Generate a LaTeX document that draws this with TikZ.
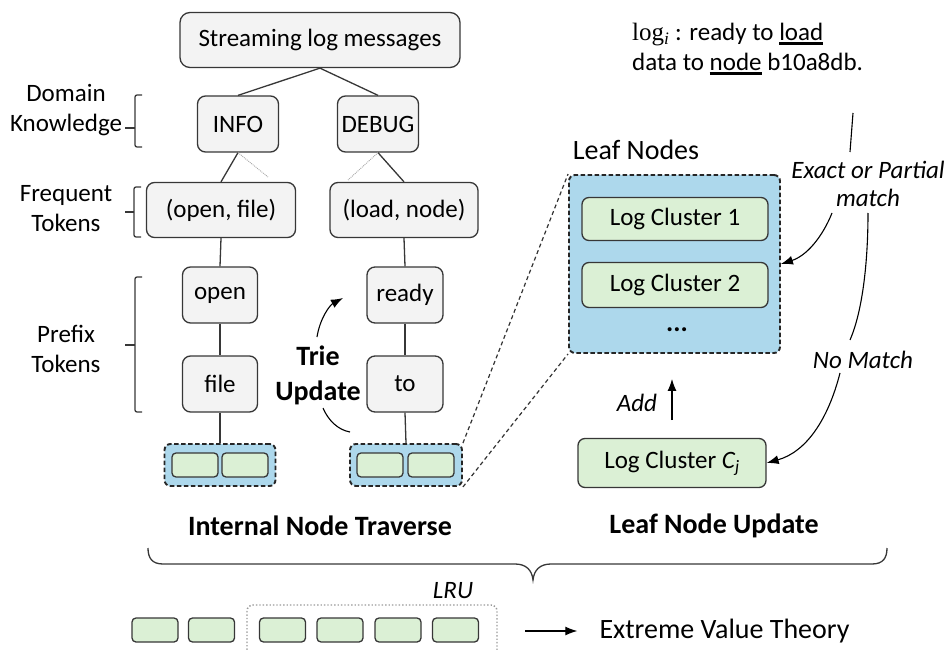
\documentclass[tikz,border=0pt]{standalone}
\usepackage{fontspec}
\setmainfont{Carlito}
\newfontfamily\logserif{Liberation Serif}
\usetikzlibrary{arrows.meta,calc}
\definecolor{boxgray}{RGB}{243,243,243}
\definecolor{edgegray}{RGB}{55,55,55}
\definecolor{leafgreen}{RGB}{219,240,213}
\definecolor{groupblue}{RGB}{173,216,236}
% thick underline for highlighted tokens
\newcommand\thickul[1]{\vtop{\hbox{#1}\kern1.2pt\hrule height 2.4pt}}

\begin{document}
\begin{tikzpicture}[x=1pt,y=-1pt,
  base/.style={font=\fontsize{25}{30}\selectfont},
  big/.style={font=\fontsize{28}{34}\selectfont},
  bigbold/.style={font=\fontsize{28}{35}\selectfont\bfseries},
  itlabel/.style={font=\fontsize{25}{28}\selectfont\itshape, inner sep=1pt},
  tok/.style={base, draw=edgegray, fill=boxgray, line width=1.3pt, rounded corners=8pt,
    minimum width=#1, minimum height=56pt, inner sep=0pt},
  cluster/.style={base, draw=edgegray, fill=leafgreen, line width=1.3pt, rounded corners=7pt,
    minimum width=186pt, minimum height=44pt, inner sep=0pt},
  cell/.style={draw=edgegray, fill=leafgreen, line width=1.3pt, rounded corners=4pt,
    minimum width=46pt, minimum height=24pt, inner sep=0pt},
  group/.style={draw=black!85, fill=groupblue, line width=1.9pt, dash pattern=on 4.5pt off 2.5pt,
    rounded corners=6pt, minimum width=#1, inner sep=0pt},
  edge/.style={draw=edgegray, line width=1.3pt},
  faint/.style={draw=gray!70, line width=0.9pt, densely dotted},
  zoomline/.style={draw=black!80, line width=1.2pt, dash pattern=on 4pt off 3pt},
  arr/.style={draw=black, line width=1.1pt, -{Latex[length=12pt,width=9pt]}},
  curve/.style={draw=black, line width=1.1pt},
  bracket/.style={draw=edgegray, line width=1.3pt, rounded corners=2pt},
  label/.style={base, align=center, inner sep=0pt},
]
\useasboundingbox (0,0) rectangle (951,650);

% ---------- internal tree ----------
\node[tok=280pt, minimum height=55pt, rounded corners=10pt] (stream) at (320,40) {Streaming log messages};
\node[tok=81pt] (info)  at (238,124) {INFO};
\node[tok=81pt] (debug) at (378,124) {DEBUG};
\node[tok=149pt, minimum height=55pt] (ofile) at (221,210) {(open, file)};
\node[tok=148pt, minimum height=55pt] (lnode) at (404,210) {(load, node)};
\node[tok=75pt] (open)  at (220,295) {open};
\node[tok=75pt] (file)  at (220,384) {file};
\node[tok=76pt] (ready) at (405,295) {ready};
\node[tok=76pt] (to)    at (405,384) {to};

\node[group=111pt, minimum height=42pt] (lgroup) at (220,465) {};
\node[group=112pt, minimum height=42pt] (rgroup) at (406,465) {};
\node[cell] (lc1) at (195,465) {};
\node[cell] (lc2) at (245,465) {};
\node[cell] (rc1) at (380,465) {};
\node[cell] (rc2) at (431,465) {};

\draw[edge] (stream.south) -- (info.north);
\draw[edge] (stream.south) -- (debug.north);
\draw[edge] (info.south) -- (ofile.north);
\draw[edge] (debug.south) -- (lnode.north);
\coordinate (infoside) at (268,177);
\coordinate (debugside) at (348,180);
\draw[faint] (info.south) -- (infoside);
\draw[faint] (debug.south) -- (debugside);
\draw[edge] (ofile.south) -- (open.north);
\draw[edge] (open.south) -- (file.north);
\draw[edge] (file.south) -- (lgroup.north);
\draw[edge] (lnode.south) -- (ready.north);
\draw[edge] (ready.south) -- (to.north);
\draw[edge] (to.south) -- (rgroup.north);

% level brackets and their labels
\node[label] (dk) at (66,110) {Domain\\Knowledge};
\node[label] (ft) at (66,209) {Frequent\\Tokens};
\node[label] (pt) at (66,349) {Prefix\\Tokens};
\draw[bracket] (142,95) -- (135,95) -- (135,147) -- (142,147);
\draw[bracket] (135,128) -- (125,128);
\draw[bracket] (141,187) -- (134,187) -- (134,237) -- (141,237);
\draw[bracket] (134,212) -- (125,212);
\draw[bracket] (142,277) -- (135,277) -- (135,412) -- (142,412);
\draw[bracket] (135,345) -- (125,345);

% trie update
\node[bigbold, align=center, inner sep=0pt] (trie) at (318,375) {Trie\\Update};
\coordinate (tu1) at (317,337);
\coordinate (tu2) at (343,298);
\coordinate (tl1) at (323,408);
\coordinate (tl2) at (350,432);
\draw[arr] (tu1) .. controls (320,318) and (330,305) .. (tu2);
\draw[curve] (tl1) .. controls (328,420) and (338,430) .. (tl2);

% ---------- leaf nodes ----------
\node[big, inner sep=0pt] (leaflabel) at (636,150) {Leaf Nodes};
\node[group=211pt, minimum height=178pt] (leaf) at (674.5,264) {};
\node[cluster, minimum height=43pt] (cl1) at (675,219) {Log Cluster 1};
\node[cluster, minimum height=45pt] (cl2) at (675,285) {Log Cluster 2};
\node[font=\fontsize{27}{30}\selectfont\bfseries, inner sep=0pt] (dots) at (677,330) {...};
\node[cluster, minimum width=188pt, minimum height=49pt] (cj) at (672,463) {Log Cluster \textit{C\textsubscript{j}}};

\draw[zoomline] (rgroup.north east) -- (leaf.north west);
\draw[zoomline] (rgroup.south east) -- (leaf.south west);

\coordinate (addfrom) at (672,420);
\draw[arr] (addfrom) -- ($(leaf.south)+(-2.5,25)$);
\node[itlabel] (add) at (637,403) {Add};

% incoming log message
\node[base, align=left, anchor=west, inner sep=0pt] (logmsg) at (632,49)
  {{\logserif log}\textsubscript{\logserif\itshape i} : ready to \thickul{load}\\
   data to \thickul{node} b10a8db.};
\coordinate (m1) at (853,113);
\coordinate (m2) at (850,152);
\draw[curve] (m1) -- (m2);
\node[itlabel, align=center, font=\fontsize{25}{28}\selectfont\itshape] (exact) at (868,184) {Exact or Partial\\match};
\coordinate (e1) at (832,213);
\draw[arr] (e1) .. controls (822,238) and (806,256) .. (leaf.east);
\coordinate (n1) at (868,213);
\coordinate (n2) at (850,340);
\draw[curve] (n1) .. controls (868,260) and (863,310) .. (n2);
\node[itlabel] (nomatch) at (863,360) {No Match};
\coordinate (n3) at (840,373);
\draw[arr] (n3) .. controls (828,420) and (806,452) .. (cj.east);

% ---------- section titles and brace ----------
\node[bigbold, inner sep=0pt] (intrav) at (320,526) {Internal Node Traverse};
\node[bigbold, inner sep=0pt] (leafupd) at (714,526) {Leaf Node Update};
\coordinate (bl) at (148,548);
\coordinate (br) at (887,548);
\coordinate (btip) at (533,580);
\draw[curve, line width=1.3pt, draw=edgegray]
  (bl) .. controls (148,558) and (152,564) .. (163,564) -- (515,564)
  .. controls (526,564) and (532,570) .. (btip)
  .. controls (534,570) and (540,564) .. (551,564) -- (872,564)
  .. controls (883,564) and (887,558) .. (br);

% ---------- LRU row ----------
\node[cell] (q1) at (155,630) {};
\node[cell] (q2) at (211.5,630) {};
\node[cell] (q3) at (282.5,630) {};
\node[cell] (q4) at (340,630) {};
\node[cell] (q5) at (398,630) {};
\node[cell] (q6) at (455.5,630) {};
\draw[draw=gray!80, line width=1.4pt, dotted, rounded corners=6pt] (247,605) rectangle (497,668);
\node[itlabel] (lru) at (453,591) {LRU};
\node[big, inner sep=0pt] (evt) at (724.5,631) {Extreme Value Theory};
\coordinate (evtfrom) at (525,631);
\draw[arr] (evtfrom) -- ($(evt.west)+(-22,0)$);
\end{tikzpicture}
\end{document}
